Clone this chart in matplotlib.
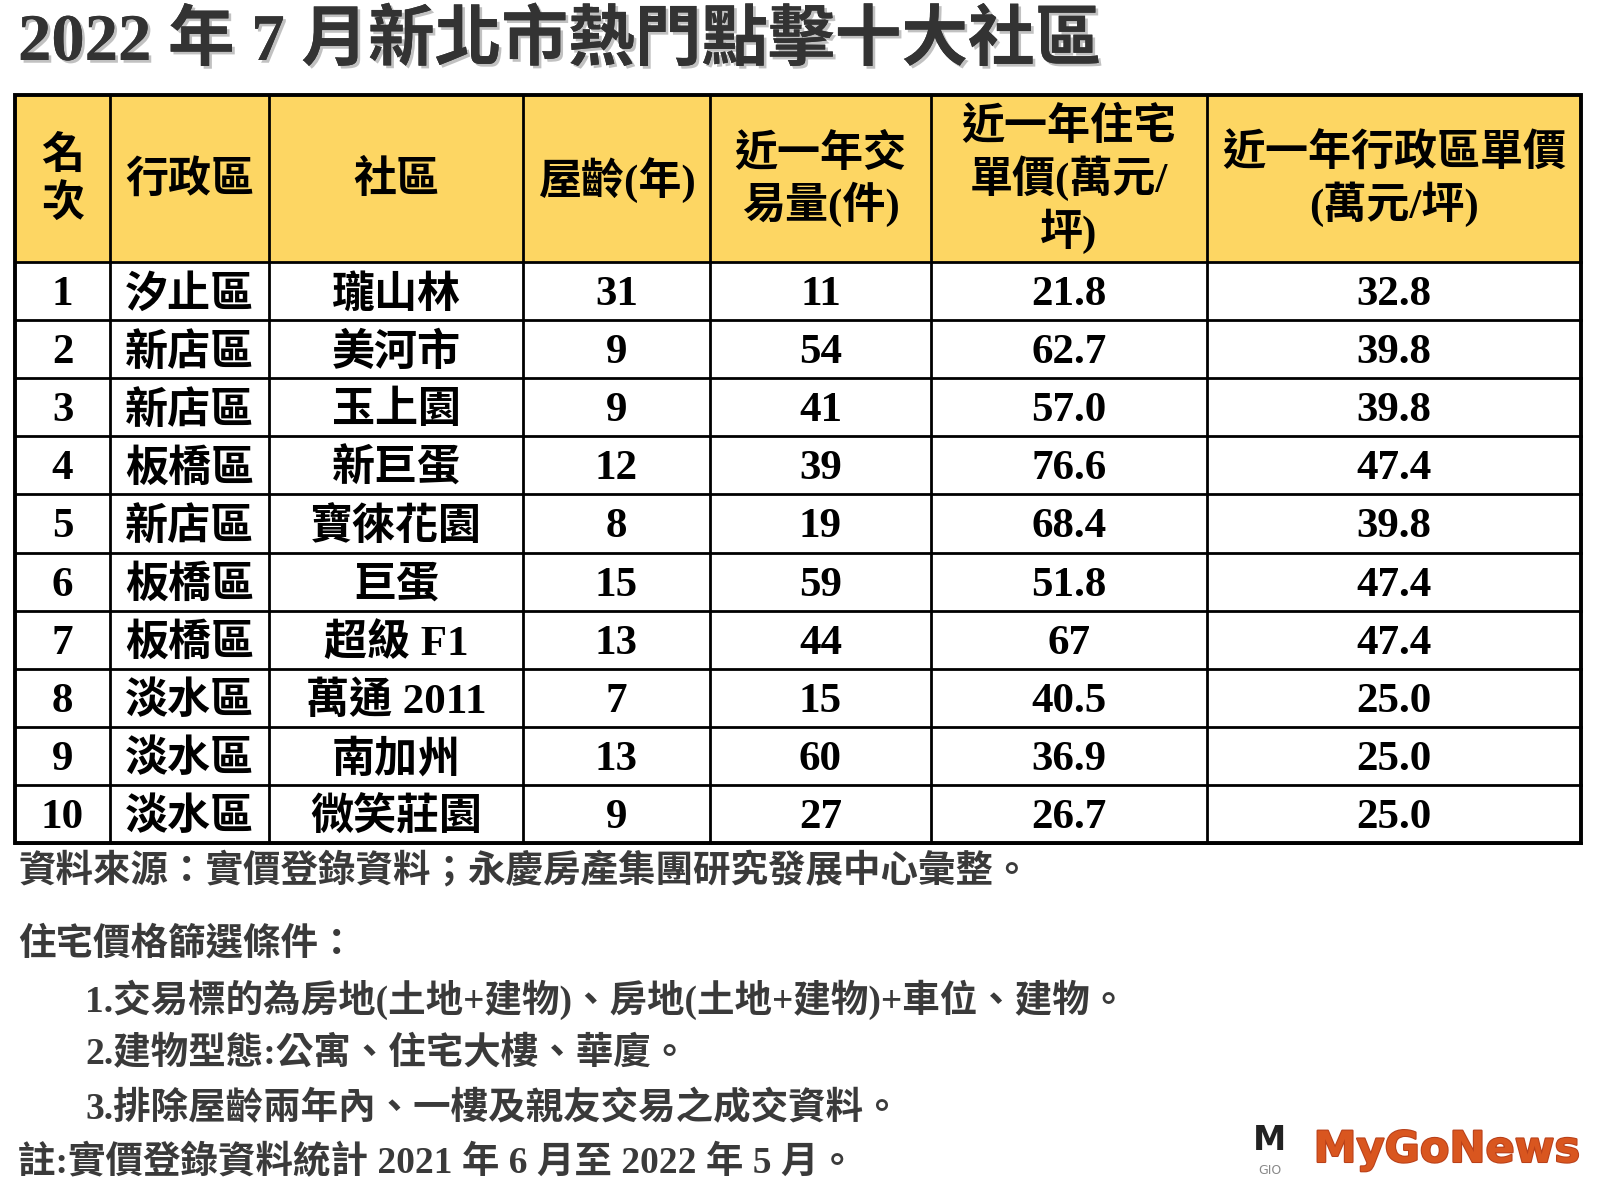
import matplotlib.pyplot as plt
import matplotlib.patheffects as pe
from matplotlib.patches import Rectangle

# 資料
title = '2022 年 7 月新北市熱門點擊十大社區'
headers = ['名\n次', '行政區', '社區', '屋齡(年)', '近一年交\n易量(件)',
           '近一年住宅\n單價(萬元/\n坪)', '近一年行政區單價\n(萬元/坪)']
ranks = [1, 2, 3, 4, 5, 6, 7, 8, 9, 10]
districts = ['汐止區', '新店區', '新店區', '板橋區', '新店區',
             '板橋區', '板橋區', '淡水區', '淡水區', '淡水區']
communities = ['瓏山林', '美河市', '玉上園', '新巨蛋', '寶徠花園',
               '巨蛋', '超級 F1', '萬通 2011', '南加州', '微笑莊園']
ages = [31, 9, 9, 12, 8, 15, 13, 7, 13, 9]
volumes = [11, 54, 41, 39, 19, 59, 44, 15, 60, 27]
unit_prices = ['21.8', '62.7', '57.0', '76.6', '68.4', '51.8', '67', '40.5', '36.9', '26.7']
district_prices = ['32.8', '39.8', '39.8', '47.4', '39.8', '47.4', '47.4', '25.0', '25.0', '25.0']
notes = ['資料來源：實價登錄資料；永慶房產集團研究發展中心彙整。',
         '住宅價格篩選條件：',
         '1.交易標的為房地(土地+建物)、房地(土地+建物)+車位、建物。',
         '2.建物型態:公寓、住宅大樓、華廈。',
         '3.排除屋齡兩年內、一樓及親友交易之成交資料。',
         '註:實價登錄資料統計 2021 年 6 月至 2022 年 5 月。']

FONT = ['Liberation Serif', 'Noto Sans CJK TC']
HEAD_BG = '#FDD663'

# 版面 (像素)
col_x = [15, 110, 269, 523, 710, 931, 1207, 1581]
top, head_bot, bot = 95, 262, 843
row_h = (bot - head_bot) / len(ranks)

fig = plt.figure(figsize=(16, 12), dpi=100)
ax = fig.add_axes([0, 0, 1, 1])
ax.set_xlim(0, 1600)
ax.set_ylim(1200, 0)
ax.axis('off')

ax.text(18, 42, title, fontsize=48, fontweight='bold', color='#333333',
        family=FONT, va='center', ha='left',
        path_effects=[pe.withSimplePatchShadow(offset=(2, -2), shadow_rgbFace='#999999', alpha=0.6),
                      pe.Normal()])

ax.add_patch(Rectangle((col_x[0], top), col_x[-1] - col_x[0], head_bot - top,
                       facecolor=HEAD_BG, edgecolor='none'))

# 表頭
for i, h in enumerate(headers):
    cx = (col_x[i] + col_x[i + 1]) / 2
    ax.text(cx, (top + head_bot) / 2 + 2, h, fontsize=31, fontweight='bold', family=FONT,
            ha='center', va='center', linespacing=1.2, color='black')

# 表身
rows = list(zip(ranks, districts, communities, ages, volumes, unit_prices, district_prices))
for r, vals in enumerate(rows):
    cy = head_bot + (r + 0.5) * row_h
    for i, v in enumerate(vals):
        cx = (col_x[i] + col_x[i + 1]) / 2
        ax.text(cx, cy + 4, str(v), fontsize=31, fontweight='bold', family=FONT,
                ha='center', va='center', color='black')

# 格線
for r in range(len(ranks) + 1):
    y = head_bot + r * row_h
    ax.plot([col_x[0], col_x[-1]], [y, y], color='black', lw=2.0)
for x in col_x[1:-1]:
    ax.plot([x, x], [top, bot], color='black', lw=2.0)
ax.add_patch(Rectangle((col_x[0], top), col_x[-1] - col_x[0], bot - top,
                       facecolor='none', edgecolor='black', lw=2.8))

# 註解
note_y = [872, 944, 1000, 1054, 1109, 1163]
note_x = [18, 18, 85, 85, 85, 18]
for t, x, y in zip(notes, note_x, note_y):
    ax.text(x, y, t, fontsize=27, fontweight='bold', family=FONT, color='#3a3a3a',
            ha='left', va='center')

# 標誌
ax.text(1270, 1140, 'M', fontsize=24, fontweight='bold', family='DejaVu Sans',
        color='#222222', ha='center', va='center')
ax.text(1270, 1170, 'GIO', fontsize=9, family='DejaVu Sans', color='#888888',
        ha='center', va='center')
ax.text(1580, 1150, 'MyGoNews', fontsize=31, fontweight='bold', family='DejaVu Sans',
        color='#D9561F', ha='right', va='center',
        path_effects=[pe.withStroke(linewidth=1.5, foreground='#B8401A')])

fig.savefig('out.png', dpi=100, facecolor='white')
